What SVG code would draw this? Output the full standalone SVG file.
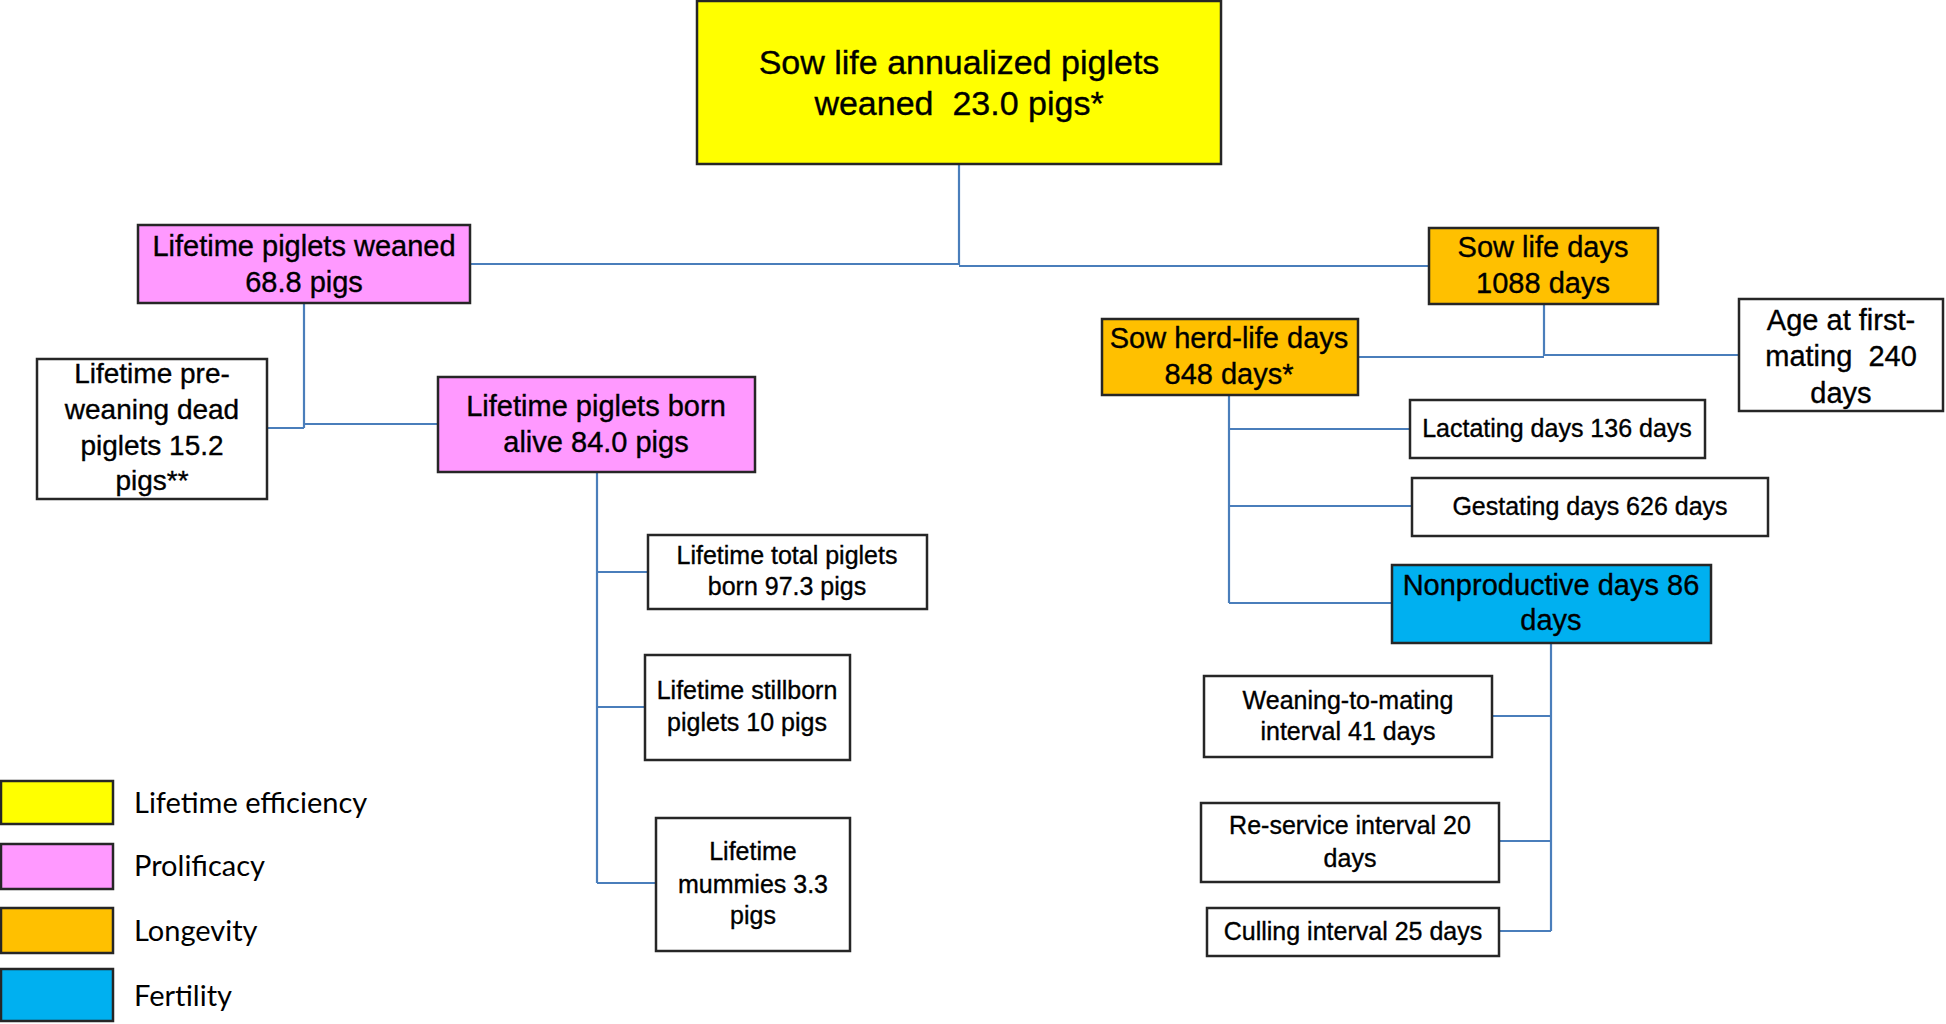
<svg xmlns="http://www.w3.org/2000/svg" width="1946" height="1024" viewBox="0 0 1946 1024">
<style>
.bx{stroke:#262626;stroke-width:2.5}
.w{fill:#ffffff}
.y{fill:#ffff00}
.p{fill:#ff99ff}
.o{fill:#ffc000}
.b{fill:#00b0f0}
text{font-family:"Liberation Sans",Arial,sans-serif;fill:#000;text-anchor:middle;stroke:#000;stroke-width:0.35}
.t34{font-size:34px}
.t29{font-size:29px}
.t28{font-size:28px}
.t25{font-size:25px}
.lg{font-family:Lato,"Open Sans",sans-serif;font-size:29px;text-anchor:start;stroke:none}
.c{fill:none;stroke:#4a7ebb;stroke-width:2.2}
</style>
<rect width="1946" height="1024" fill="#ffffff"/>
<g id="connectors">
<path class="c" d="M959,164V265M470,264H959M959,266H1429"/>
<path class="c" d="M304,303V428M267,428H304M304,424H438"/>
<path class="c" d="M597,472V883M597,572H648M597,707H645M597,883H656"/>
<path class="c" d="M1544,304V356M1358,357H1544M1544,355H1739"/>
<path class="c" d="M1229,395V603M1229,429H1410M1229,506H1412M1229,603H1392"/>
<path class="c" d="M1551,643V931M1492,716H1551M1499,841H1551M1499,931H1551"/>
</g>
<g id="n-top"><rect class="bx y" x="697" y="1" width="524" height="163"/>
<text class="t34" x="959" y="74">Sow life annualized piglets</text><text class="t34" x="959" y="115" xml:space="preserve">weaned  23.0 pigs*</text></g>
<g id="n-weaned"><rect class="bx p" x="138" y="225" width="332" height="78"/>
<text class="t29" x="304" y="256">Lifetime piglets weaned</text><text class="t29" x="304" y="292">68.8 pigs</text></g>
<g id="n-predead"><rect class="bx w" x="37" y="359" width="230" height="140"/>
<text class="t28" x="152" y="383">Lifetime pre-</text><text class="t28" x="152" y="419">weaning dead</text><text class="t28" x="152" y="455">piglets 15.2</text><text class="t28" x="152" y="490">pigs**</text></g>
<g id="n-bornalive"><rect class="bx p" x="438" y="377" width="317" height="95"/>
<text class="t29" x="596" y="416">Lifetime piglets born</text><text class="t29" x="596" y="452">alive 84.0 pigs</text></g>
<g id="n-total"><rect class="bx w" x="648" y="535" width="279" height="74"/>
<text class="t25" x="787" y="564">Lifetime total piglets</text><text class="t25" x="787" y="595">born 97.3 pigs</text></g>
<g id="n-stillborn"><rect class="bx w" x="645" y="655" width="205" height="105"/>
<text class="t25" x="747" y="699">Lifetime stillborn</text><text class="t25" x="747" y="731">piglets 10 pigs</text></g>
<g id="n-mummies"><rect class="bx w" x="656" y="818" width="194" height="133"/>
<text class="t25" x="753" y="860">Lifetime</text><text class="t25" x="753" y="893">mummies 3.3</text><text class="t25" x="753" y="924">pigs</text></g>
<g id="n-sowlife"><rect class="bx o" x="1429" y="228" width="229" height="76"/>
<text class="t29" x="1543" y="257">Sow life days</text><text class="t29" x="1543" y="293">1088 days</text></g>
<g id="n-age"><rect class="bx w" x="1739" y="299" width="204" height="112"/>
<text class="t29" x="1841" y="330">Age at first-</text><text class="t29" x="1841" y="366" xml:space="preserve">mating  240</text><text class="t29" x="1841" y="403">days</text></g>
<g id="n-herd"><rect class="bx o" x="1102" y="319" width="256" height="76"/>
<text class="t29" x="1229" y="348">Sow herd-life days</text><text class="t29" x="1229" y="384">848 days*</text></g>
<g id="n-lact"><rect class="bx w" x="1410" y="400" width="295" height="58"/>
<text class="t25" x="1557" y="437">Lactating days 136 days</text></g>
<g id="n-gest"><rect class="bx w" x="1412" y="478" width="356" height="58"/>
<text class="t25" x="1590" y="515">Gestating days 626 days</text></g>
<g id="n-nonprod"><rect class="bx b" x="1392" y="565" width="319" height="78"/>
<text class="t29" x="1551" y="595">Nonproductive days 86</text><text class="t29" x="1551" y="630">days</text></g>
<g id="n-wean"><rect class="bx w" x="1204" y="676" width="288" height="81"/>
<text class="t25" x="1348" y="709">Weaning-to-mating</text><text class="t25" x="1348" y="740">interval 41 days</text></g>
<g id="n-reserv"><rect class="bx w" x="1201" y="803" width="298" height="79"/>
<text class="t25" x="1350" y="834">Re-service interval 20</text><text class="t25" x="1350" y="867">days</text></g>
<g id="n-cull"><rect class="bx w" x="1207" y="908" width="292" height="48"/>
<text class="t25" x="1353" y="940">Culling interval 25 days</text></g>
<g id="legend">
<rect class="bx y" x="1" y="781" width="112" height="43"/><text class="lg" x="134" y="813">Lifetime efficiency</text>
<rect class="bx p" x="1" y="844" width="112" height="45"/><text class="lg" x="134" y="876">Prolificacy</text>
<rect class="bx o" x="1" y="908" width="112" height="45"/><text class="lg" x="134" y="941">Longevity</text>
<rect class="bx b" x="1" y="969" width="112" height="52"/><text class="lg" x="134" y="1006">Fertility</text>
</g>
</svg>
